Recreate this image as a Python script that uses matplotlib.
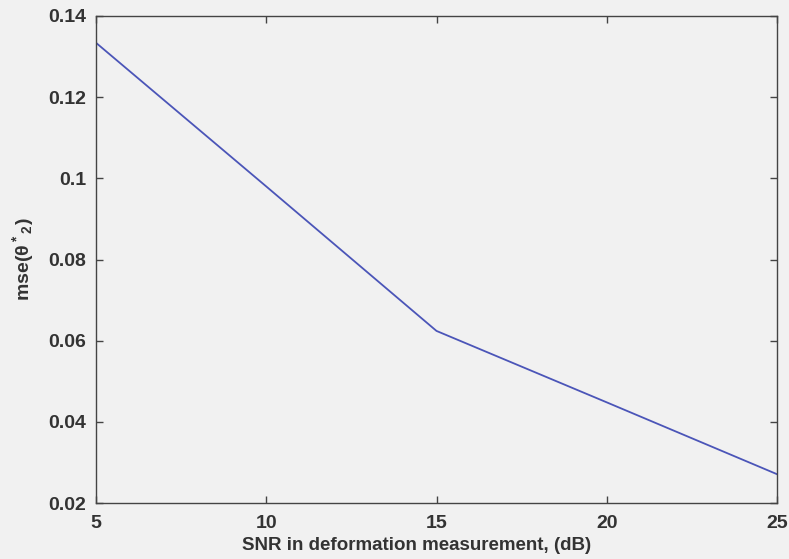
import numpy as np
import matplotlib.pyplot as plt

plt.rcParams['font.family'] = ['Liberation Sans', 'DejaVu Sans']
plt.rcParams['font.weight'] = 'bold'
plt.rcParams['mathtext.default'] = 'regular'

snr = [5, 10, 15, 20, 25]
mse = [0.1334, 0.0980, 0.0624, 0.0448, 0.0271]

fig = plt.figure(figsize=(7.89, 5.59), dpi=100, facecolor='#f1f1f1')
ax = fig.add_axes([96/789, 1 - 503/559, (777-96)/789, (503-16)/559])
ax.set_facecolor('#f1f1f1')

ax.plot(snr, mse, color='#4b55b8', linewidth=1.3)

ax.set_xlim(5, 25)
ax.set_ylim(0.02, 0.14)
ax.set_xticks([5, 10, 15, 20, 25])
ax.set_yticks([0.02, 0.04, 0.06, 0.08, 0.1, 0.12, 0.14])
ax.set_yticklabels(['0.02', '0.04', '0.06', '0.08', '0.1', '0.12', '0.14'])

for s in ax.spines.values():
    s.set_color('#444444')
    s.set_linewidth(1.0)
ax.tick_params(direction='in', top=True, right=True, length=5, width=1,
               color='#444444', labelsize=14, labelcolor='#333333')
ax.tick_params(axis='y', pad=7)
ax.tick_params(axis='x', pad=9)

ax.set_xlabel('SNR in deformation measurement, (dB)', fontsize=13.5,
              fontweight='bold', color='#333333')
ax.xaxis.set_label_coords(0.471, -0.07)
ax.set_ylabel('mse(θ$^*$$_2$)', fontsize=14, fontweight='bold',
              color='#333333', labelpad=9)

plt.savefig('out.png', dpi=100, facecolor='#f1f1f1')
